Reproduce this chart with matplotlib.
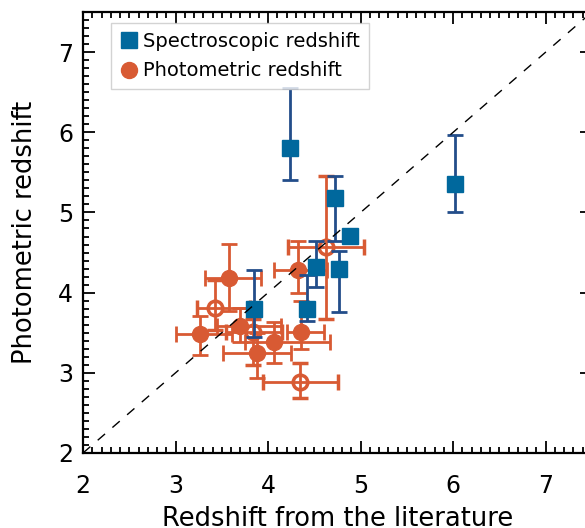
import matplotlib

matplotlib.use("Agg")
import matplotlib.pyplot as plt
from matplotlib.lines import Line2D
from matplotlib.ticker import MultipleLocator

# spectroscopic sample
spec_x = [4.24, 6.02, 4.72, 4.88, 4.52, 4.77, 4.42, 3.85]
spec_y = [5.80, 5.35, 5.18, 4.71, 4.32, 4.30, 3.80, 3.80]
spec_ylo = [5.40, 5.00, 4.64, 4.71, 4.07, 3.76, 3.65, 3.45]
spec_yhi = [6.55, 5.97, 5.45, 4.71, 4.64, 4.52, 4.22, 4.28]

# photometric sample, filled symbols
phot_x = [3.58, 3.26, 3.70, 4.06, 3.88, 4.32, 4.36]
phot_y = [4.18, 3.48, 3.59, 3.38, 3.25, 4.28, 3.51]
phot_xlo = [3.32, 3.01, 3.45, 3.75, 3.51, 4.06, 4.20]
phot_xhi = [3.92, 3.61, 4.14, 4.67, 4.25, 4.64, 4.60]
phot_ylo = [3.77, 3.22, 3.39, 3.12, 2.93, 4.00, 3.30]
phot_yhi = [4.61, 3.71, 3.81, 3.64, 3.50, 4.64, 3.90]

# photometric sample, open symbols
open_x = [3.43, 3.84, 4.35, 4.63]
open_y = [3.81, 3.51, 2.89, 4.57]
open_xlo = [3.23, 3.55, 3.95, 4.21]
open_xhi = [3.80, 4.15, 4.75, 5.04]
open_ylo = [3.54, 3.10, 2.69, 3.67]
open_yhi = [4.16, 3.67, 3.12, 5.45]

LEGEND_LABELS = ["Spectroscopic redshift", "Photometric redshift"]

BLUE = "#00689d"
BLUE_ERR = "#234d8a"
ORANGE = "#d85a33"


def _err(vals, lo, hi):
    return [[v - l for v, l in zip(vals, lo)], [h - v for v, h in zip(vals, hi)]]


plt.rcParams["font.family"] = "DejaVu Sans"

W, H = 585, 528
fig = plt.figure(figsize=(W / 100, H / 100), dpi=100)
ax = fig.add_axes([83 / W, 1 - 453 / H, (592 - 83) / W, (453 - 12) / H])

bar_kw = dict(elinewidth=2, capsize=6, capthick=2)
ax.errorbar(open_x, open_y, xerr=_err(open_x, open_xlo, open_xhi),
            yerr=_err(open_y, open_ylo, open_yhi), fmt="o", ms=10.5,
            mfc="none", mec=ORANGE, mew=2.5, ecolor=ORANGE, zorder=2, **bar_kw)
ax.errorbar(phot_x, phot_y, xerr=_err(phot_x, phot_xlo, phot_xhi),
            yerr=_err(phot_y, phot_ylo, phot_yhi), fmt="o", ms=11.5,
            color=ORANGE, ecolor=ORANGE, zorder=3, **bar_kw)
ax.errorbar(spec_x, spec_y, yerr=_err(spec_y, spec_ylo, spec_yhi), fmt="s",
            ms=11.5, color=BLUE, ecolor=BLUE_ERR, zorder=4, **bar_kw)

# one-to-one line
ax.plot([2, 8], [2, 8], ls=(0, (7, 7)), color="black", lw=1.0, zorder=5)

ax.set_xlim(2, 7.5)
ax.set_ylim(2, 7.5)
ax.xaxis.set_major_locator(MultipleLocator(1))
ax.xaxis.set_minor_locator(MultipleLocator(0.1))
ax.yaxis.set_major_locator(MultipleLocator(1))
ax.yaxis.set_minor_locator(MultipleLocator(0.1))
ax.tick_params(which="both", direction="in", top=True, right=True,
               width=1.3, labelsize=17)
ax.tick_params(which="major", length=8.6)
ax.tick_params(which="minor", length=4.3)
ax.tick_params(axis="x", pad=15)
ax.tick_params(axis="y", pad=7)
for s in ax.spines.values():
    s.set_linewidth(1.6)

ax.set_xlabel("Redshift from the literature", fontsize=18.5)
ax.set_ylabel("Photometric redshift", fontsize=18.5)
ax.xaxis.set_label_coords(0.5, -0.12)
ax.yaxis.set_label_coords(-0.088, 0.5)

handles = [
    Line2D([], [], ls="none", marker="s", ms=11.5, color=BLUE),
    Line2D([], [], ls="none", marker="o", ms=11.5, color=ORANGE),
]
leg = ax.legend(handles, LEGEND_LABELS, loc="upper left",
                bbox_to_anchor=(0.055, 0.975), borderaxespad=0, fontsize=14,
                frameon=True, fancybox=False, edgecolor="#c8c8c8",
                handletextpad=0.2, handlelength=1.0, borderpad=0.45,
                labelspacing=0.55)
leg.get_frame().set_linewidth(1)

fig.savefig("out.png", dpi=100)
